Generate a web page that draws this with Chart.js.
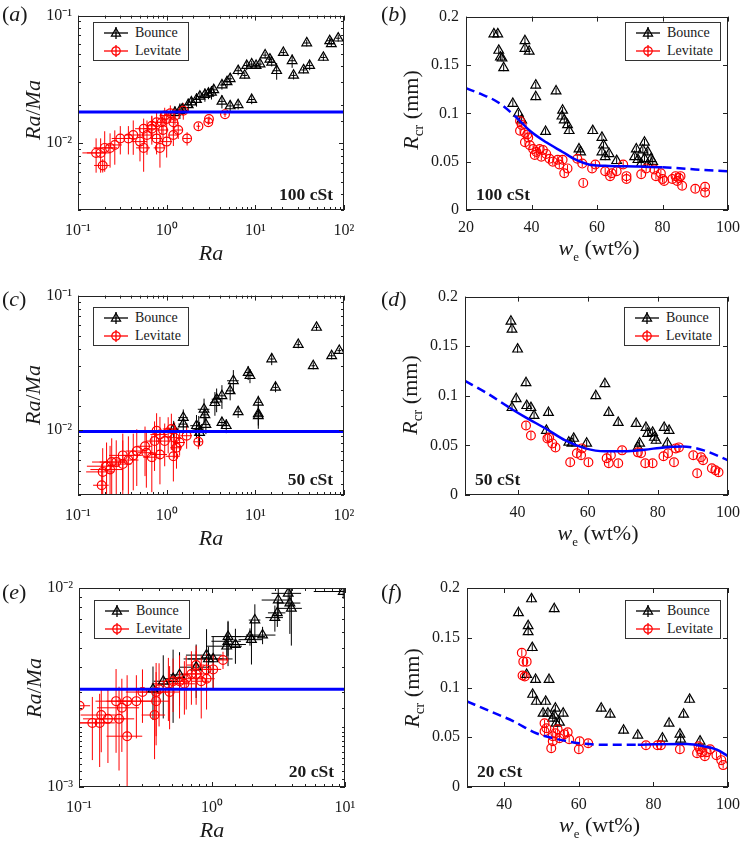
<!DOCTYPE html>
<html>
<head>
<meta charset="utf-8">
<title>Bounce / levitate thresholds</title>
<script src="https://cdn.jsdelivr.net/npm/chart.js@4.4.1/dist/chart.umd.min.js"></script>
<style>
  body { margin: 0; background: #fff; }
  #fig { position: relative; width: 748px; height: 842px; overflow: hidden;
         font-family: "Liberation Serif", "Times New Roman", serif; color: #1a1a1a; }
  #fig canvas { position: absolute; }
  .txt { position: absolute; white-space: nowrap; line-height: 1; }
  .sub { position: relative; font-size: 15px; top: 5px; }
  .sube { position: relative; font-size: 13px; top: 6px; }
  .legend { position: absolute; width: 96px; height: 39px; box-sizing: border-box;
            border: 1.5px solid #333; background: #fff; font-size: 14px; line-height: 1; }
  .legend svg { position: absolute; left: 10px; }
  .legend span { position: absolute; left: 41px; }
</style>
</head>
<body>
<div id="fig"></div>
<script>
// ---- data ----
// (a) 100 cSt
const aRaRange = [0.1, 100];
const aRaMaRange = [0.003, 0.1];
const aRaMaCrit = 0.0176;
const aBounceRa = [86, 69, 72, 38, 58.5, 41, 35, 27, 26, 20.7, 17.4, 12.9, 14.6, 15.3, 11.3, 10.2, 9.1, 8.0, 7.6, 6.4, 5.2, 4.8, 4.2, 3.4, 3.2, 2.96, 2.7, 2.37, 2.17, 1.9, 1.75, 1.5, 1.41, 1.24, 4.2, 5.2, 6.4, 9.1];
const aBounceRaMa = [0.0665, 0.0635, 0.060, 0.061, 0.047, 0.0406, 0.0375, 0.034, 0.0443, 0.0513, 0.037, 0.049, 0.0455, 0.043, 0.0417, 0.0406, 0.0417, 0.0406, 0.034, 0.037, 0.032, 0.0303, 0.0286, 0.0262, 0.025, 0.0246, 0.024, 0.0233, 0.022, 0.021, 0.020, 0.0185, 0.018, 0.0174, 0.0213, 0.0196, 0.020, 0.022];
const aBounceErrX = [0.06, 0.08, 0.06, 0.08, 0.06, 0.08, 0.06, 0.06, 0.08, 0.06, 0.1, 0.06, 0.06, 0.08, 0.06, 0.08, 0.06, 0.08, 0.06, 0.08, 0.06, 0.08, 0.06, 0.08, 0.1, 0.08, 0.1, 0.08, 0.1, 0.08, 0.1, 0.08, 0.12, 0.1, 0.08, 0.08, 0.06, 0.08];
const aBounceErrY = [0.06, 0.06, 0.05, 0.06, 0.06, 0.08, 0.06, 0.07, 0.12, 0.06, 0.15, 0.06, 0.06, 0.07, 0.08, 0.06, 0.06, 0.08, 0.06, 0.08, 0.1, 0.1, 0.08, 0.1, 0.12, 0.1, 0.12, 0.1, 0.12, 0.1, 0.12, 0.1, 0.14, 0.12, 0.12, 0.1, 0.08, 0.08];
const aLevRa = [4.55, 3.0, 2.95, 2.28, 1.54, 1.24, 1.0, 0.88, 1.19, 1.35, 1.7, 1.19, 1.0, 0.84, 0.77, 0.68, 0.55, 0.6, 0.55, 0.5, 0.42, 0.37, 0.3, 0.26, 0.23, 0.2, 0.18, 0.19, 0.16, 0.77, 0.68, 0.91, 1.1, 0.95];
const aLevRaMa = [0.0169, 0.0155, 0.0146, 0.0136, 0.018, 0.0164, 0.0155, 0.0146, 0.0146, 0.0127, 0.0109, 0.0116, 0.0103, 0.0092, 0.0109, 0.013, 0.013, 0.0116, 0.0092, 0.0103, 0.0116, 0.0109, 0.0109, 0.0097, 0.0092, 0.0092, 0.0084, 0.0067, 0.0084, 0.0146, 0.0137, 0.0127, 0.0172, 0.0165];
const aLevErrX = [0.04, 0.04, 0.05, 0.05, 0.15, 0.12, 0.15, 0.15, 0.12, 0.12, 0.1, 0.12, 0.15, 0.15, 0.15, 0.2, 0.2, 0.2, 0.18, 0.2, 0.2, 0.18, 0.2, 0.2, 0.2, 0.25, 0.3, 0.2, 0.3, 0.15, 0.15, 0.15, 0.12, 0.12];
const aLevErrY = [0.05, 0.05, 0.05, 0.06, 0.15, 0.15, 0.18, 0.2, 0.2, 0.15, 0.12, 0.18, 0.25, 0.3, 0.25, 0.25, 0.2, 0.3, 0.35, 0.3, 0.3, 0.25, 0.25, 0.3, 0.3, 0.35, 0.3, 0.12, 0.3, 0.2, 0.2, 0.2, 0.15, 0.15];

// (b) 100 cSt
const bWRange = [20, 100];
const bBounceW = [28.5, 29.7, 30, 30.5, 31, 31.5, 38, 38, 39.3, 41.3, 41.3, 47.5, 44.3, 34.3, 36, 37, 49.5, 49.3, 50, 51, 51.5, 54.5, 55, 58.7, 61.5, 62, 61.5, 62.5, 63.7, 66, 72, 71.5, 72.5, 74.5, 74, 75.5, 74.5, 76.5, 77, 73.5, 75.5];
const bBounceR = [0.182, 0.182, 0.165, 0.158, 0.157, 0.147, 0.175, 0.167, 0.164, 0.129, 0.117, 0.123, 0.081, 0.11, 0.1, 0.093, 0.103, 0.097, 0.093, 0.088, 0.082, 0.063, 0.06, 0.082, 0.075, 0.067, 0.06, 0.055, 0.058, 0.051, 0.063, 0.055, 0.052, 0.07, 0.062, 0.06, 0.053, 0.053, 0.05, 0.048, 0.047];
const bLevW = [36.5, 37, 36.5, 38, 38.7, 39, 38, 39.5, 40.5, 41.5, 41, 42.5, 43.5, 43, 44.5, 45.5, 46.5, 48, 49.5, 48.5, 50, 51, 54, 55.5, 55.8, 58.5, 59.5, 62.5, 64, 64.5, 66, 68, 69, 69, 73.5, 75, 77.5, 78, 79.5, 80, 80.5, 83, 84, 85, 85.5, 84.5, 86, 90, 93, 93];
const bLevR = [0.092, 0.088, 0.082, 0.08, 0.078, 0.075, 0.07, 0.067, 0.063, 0.06, 0.057, 0.063, 0.062, 0.055, 0.058, 0.053, 0.05, 0.052, 0.052, 0.047, 0.038, 0.043, 0.053, 0.048, 0.028, 0.043, 0.047, 0.04, 0.035, 0.038, 0.04, 0.047, 0.035, 0.032, 0.037, 0.043, 0.042, 0.035, 0.038, 0.032, 0.03, 0.032, 0.035, 0.033, 0.035, 0.03, 0.025, 0.022, 0.024, 0.018];
const bFitW = [20, 24.5, 29.5, 35, 39.5, 44.5, 49.5, 53.5, 57.5, 62.5, 72.5, 80, 90, 100];
const bFitR = [0.126, 0.12, 0.112, 0.097, 0.082, 0.07, 0.06, 0.052, 0.047, 0.0457, 0.045, 0.0443, 0.042, 0.04];
const bFitSolid = [35, 80];
const bErrR = 0.0035;

// (c) 50 cSt
const cRaRange = [0.1, 100];
const cRaMaRange = [0.0033, 0.1];
const cRaMaCrit = 0.0098;
const cBounceRa = [49, 30.5, 88.5, 72.6, 45, 15.3, 16.9, 8.3, 8.7, 5.65, 5.2, 4.2, 3.66, 3.5, 2.64, 2.7, 1.54, 1.54, 2.17, 2.3, 2.77, 4.2, 4.7, 6.4, 10.8, 10.8, 10.8, 2.35, 1.2];
const cBounceRaMa = [0.058, 0.0432, 0.039, 0.0357, 0.0301, 0.0338, 0.0208, 0.0268, 0.0254, 0.0233, 0.0196, 0.018, 0.017, 0.016, 0.0143, 0.013, 0.0124, 0.0111, 0.0108, 0.0102, 0.011, 0.0114, 0.0108, 0.0137, 0.0161, 0.0132, 0.0128, 0.0096, 0.0102];
const cBounceErrX = [0.05, 0.05, 0.05, 0.08, 0.05, 0.06, 0.06, 0.08, 0.08, 0.15, 0.1, 0.1, 0.12, 0.12, 0.15, 0.1, 0.12, 0.12, 0.15, 0.15, 0.12, 0.1, 0.1, 0.08, 0.08, 0.08, 0.08, 0.12, 0.15];
const cBounceErrY = [0.05, 0.06, 0.05, 0.06, 0.06, 0.1, 0.08, 0.12, 0.12, 0.2, 0.15, 0.2, 0.2, 0.2, 0.2, 0.15, 0.15, 0.15, 0.2, 0.25, 0.15, 0.1, 0.12, 0.1, 0.12, 0.18, 0.2, 0.2, 0.15];
const cLevRa = [2.28, 1.68, 1.4, 1.23, 1.29, 1.19, 1.04, 1.13, 0.95, 0.84, 0.77, 0.73, 0.84, 0.68, 0.57, 0.59, 0.46, 0.42, 0.37, 0.32, 0.32, 0.27, 0.24, 0.23, 0.21, 0.19, 0.185];
const cLevRaMa = [0.0082, 0.0091, 0.0081, 0.0088, 0.0074, 0.0064, 0.0096, 0.0102, 0.0083, 0.0093, 0.0099, 0.0083, 0.0066, 0.0063, 0.0076, 0.0068, 0.007, 0.0065, 0.006, 0.0065, 0.0056, 0.0058, 0.0058, 0.0051, 0.0054, 0.0049, 0.0039];
const cLevErrX = [0.12, 0.15, 0.15, 0.18, 0.15, 0.18, 0.2, 0.2, 0.2, 0.22, 0.2, 0.2, 0.2, 0.2, 0.2, 0.2, 0.25, 0.25, 0.3, 0.3, 0.25, 0.35, 0.4, 0.4, 0.4, 0.35, 0.2];
const cLevErrY = [0.12, 0.2, 0.2, 0.3, 0.3, 0.35, 0.3, 0.3, 0.35, 0.35, 0.35, 0.4, 0.4, 0.45, 0.4, 0.45, 0.45, 0.45, 0.5, 0.45, 0.5, 0.45, 0.5, 0.5, 0.5, 0.5, 0.45];

// (d) 50 cSt
const dWRange = [25, 100];
const dBounceW = [38.1, 38.4, 40, 42.4, 39.6, 38.4, 42.6, 43.8, 44.7, 48.8, 48.2, 54.6, 56, 55.5, 59.7, 62.3, 64.9, 66, 68.7, 73.8, 74.8, 74.3, 76.6, 77.1, 78.5, 79, 79.5, 81.8, 83.2, 82.7];
const dBounceR = [0.175, 0.167, 0.147, 0.113, 0.097, 0.088, 0.09, 0.088, 0.08, 0.083, 0.065, 0.053, 0.057, 0.052, 0.052, 0.1, 0.112, 0.083, 0.073, 0.072, 0.052, 0.048, 0.068, 0.062, 0.063, 0.058, 0.055, 0.068, 0.065, 0.052];
const dLevW = [42.4, 43.8, 48.5, 49, 49.9, 50.8, 55, 56.9, 58.3, 58.1, 60.2, 65.4, 66, 66.6, 68.7, 69.8, 74.3, 75.2, 76.4, 78.5, 81.6, 82.9, 84.6, 85.1, 86, 90.1, 91.2, 92.3, 92.9, 95.4, 97.3, 96.4];
const dLevR = [0.07, 0.06, 0.057, 0.058, 0.052, 0.048, 0.033, 0.042, 0.047, 0.04, 0.033, 0.037, 0.032, 0.04, 0.032, 0.045, 0.043, 0.042, 0.032, 0.032, 0.039, 0.042, 0.033, 0.047, 0.048, 0.04, 0.022, 0.038, 0.035, 0.027, 0.023, 0.025];
const dFitW = [25, 31.1, 37.7, 42.4, 48, 53.6, 59.3, 64.9, 70.5, 76.2, 81.8, 87, 93.1, 100];
const dFitR = [0.115, 0.103, 0.088, 0.078, 0.067, 0.055, 0.047, 0.044, 0.044, 0.0457, 0.048, 0.049, 0.045, 0.035];
const dFitSolid = [37.7, 87];
const dErrR = 0.0035;

// (e) 20 cSt
const eRaRange = [0.1, 10];
const eRaMaRange = [0.001, 0.01];
const eRaMaCrit = 0.0031;
const eBounceRa = [9.7, 3.74, 3.15, 3.85, 3.95, 3.1, 2.97, 2.1, 2.4, 1.93, 1.98, 1.32, 1.32, 1.29, 1.5, 1.02, 0.91, 0.94, 0.76, 0.57, 0.51, 0.43, 0.36];
const eBounceRaMa = [0.0096, 0.0094, 0.0087, 0.0084, 0.0079, 0.0075, 0.0071, 0.0069, 0.0058, 0.0057, 0.0055, 0.0057, 0.0054, 0.0051, 0.0052, 0.0044, 0.0046, 0.0044, 0.004, 0.00366, 0.0035, 0.0034, 0.0031];
const eBounceErrX = [0.4, 0.25, 0.25, 0.2, 0.2, 0.15, 0.15, 0.1, 0.25, 0.3, 0.2, 0.25, 0.25, 0.3, 0.2, 0.4, 0.3, 0.3, 0.25, 0.15, 0.15, 0.15, 0.1];
const eBounceErrY = [0.08, 0.15, 0.2, 0.3, 0.35, 0.15, 0.15, 0.2, 0.1, 0.1, 0.25, 0.2, 0.25, 0.15, 0.2, 0.3, 0.35, 0.15, 0.3, 0.3, 0.4, 0.35, 0.3];
const eLevRa = [1.21, 1.02, 0.91, 0.91, 0.83, 0.76, 0.76, 0.7, 0.64, 0.62, 0.57, 0.51, 0.47, 0.48, 0.4, 0.38, 0.38, 0.37, 0.3, 0.27, 0.23, 0.21, 0.2, 0.19, 0.23, 0.165, 0.147, 0.143, 0.126, 0.101];
const eLevRaMa = [0.00435, 0.0039, 0.0039, 0.0035, 0.0034, 0.0037, 0.0041, 0.0037, 0.0035, 0.0033, 0.0034, 0.0034, 0.0033, 0.003, 0.0031, 0.003, 0.0027, 0.0023, 0.003, 0.0027, 0.0027, 0.0025, 0.0022, 0.0027, 0.0018, 0.0022, 0.0023, 0.0021, 0.0021, 0.00256];
const eLevErrX = [0.1, 0.15, 0.15, 0.15, 0.15, 0.15, 0.15, 0.2, 0.2, 0.2, 0.2, 0.2, 0.25, 0.2, 0.25, 0.25, 0.25, 0.2, 0.25, 0.3, 0.3, 0.35, 0.3, 0.3, 0.3, 0.35, 0.3, 0.3, 0.35, 0.2];
const eLevErrY = [0.1, 0.2, 0.2, 0.3, 0.35, 0.3, 0.25, 0.3, 0.3, 0.3, 0.35, 0.3, 0.35, 0.35, 0.35, 0.4, 0.4, 0.4, 0.3, 0.35, 0.35, 0.4, 0.45, 0.45, 0.5, 0.4, 0.35, 0.4, 0.35, 0.2];

// (f) 20 cSt
const fWRange = [30, 100];
const fBounceW = [43.8, 47.3, 53.4, 46.4, 46.4, 47.5, 46, 48.4, 52, 47.6, 48.6, 51.1, 50.4, 51.7, 53.7, 53.4, 53.9, 54.8, 55.8, 53, 66, 68.4, 72, 75.8, 82.4, 84.2, 87.1, 87.3, 88.1, 89.7, 92.5];
const fBounceR = [0.175, 0.189, 0.179, 0.162, 0.156, 0.14, 0.113, 0.108, 0.108, 0.093, 0.086, 0.086, 0.074, 0.074, 0.079, 0.072, 0.064, 0.065, 0.074, 0.069, 0.079, 0.073, 0.057, 0.052, 0.049, 0.064, 0.053, 0.048, 0.073, 0.088, 0.046];
const fLevW = [44.7, 45.1, 46, 44.9, 45.5, 50.8, 51.3, 50.8, 52.6, 53, 53, 53.7, 54.3, 54.8, 56.1, 57, 57.4, 60.2, 60, 62.5, 78, 81.1, 82, 87.1, 92.1, 92.5, 93, 93.8, 94.3, 95.2, 96.9, 98.2, 98.7, 91.7];
const fLevR = [0.135, 0.126, 0.126, 0.112, 0.111, 0.064, 0.059, 0.056, 0.039, 0.051, 0.046, 0.054, 0.058, 0.049, 0.053, 0.055, 0.048, 0.046, 0.038, 0.044, 0.042, 0.042, 0.042, 0.038, 0.041, 0.038, 0.035, 0.031, 0.035, 0.038, 0.032, 0.027, 0.022, 0.034];
const fFitW = [30, 36.3, 42.5, 48.6, 54.8, 60, 67, 75.8, 80.2, 89, 93.4, 97, 100];
const fFitR = [0.086, 0.076, 0.066, 0.054, 0.0476, 0.044, 0.0425, 0.0425, 0.043, 0.0432, 0.041, 0.0375, 0.031];
const fFitSolid = [75.8, 100];
const fErrR = 0.0035;

const rRange = [0, 0.2];

// ---- helpers ----
Chart.defaults.font.family = '"Liberation Serif", "Times New Roman", serif';
Chart.defaults.font.size = 16;
Chart.defaults.color = '#1a1a1a';

const SUP = { '-': '\u207B', '0': '\u2070', '1': '\u00B9', '2': '\u00B2', '3': '\u00B3' };
function isPow10(v) { const e = Math.log10(v); return Math.abs(e - Math.round(e)) < 1e-9; }
function powLabel(v) {
  if (!isPow10(v)) return '';
  return '10' + String(Math.round(Math.log10(v))).split('').map(c => SUP[c]).join('');
}
function pts(xs, ys) { return xs.map((x, i) => ({ x: x, y: ys[i] })); }

function bounceSet(xs, ys, ex, ey) {
  return { label: 'Bounce', data: pts(xs, ys), pointStyle: 'triangle', pointRadius: 5.6,
    borderColor: '#000', backgroundColor: 'rgba(0,0,0,0)', borderWidth: 1.2, errX: ex, errY: ey, order: 3 };
}
function levSet(xs, ys, ex, ey) {
  return { label: 'Levitate', data: pts(xs, ys), pointStyle: 'circle', pointRadius: 4.4,
    borderColor: '#ff0000', backgroundColor: 'rgba(0,0,0,0)', borderWidth: 1.2, errX: ex, errY: ey, order: 2 };
}
function withAbsErr(ds, e) { ds.errAbsY = e; return ds; }
function critLine(range, yv) {
  return { data: [{ x: range[0], y: yv }, { x: range[1], y: yv }], showLine: true, pointRadius: 0,
    borderColor: '#0000ff', borderWidth: 3, order: 1 };
}
function fitCurve(xs, ys, solid) {
  return { data: pts(xs, ys), showLine: true, pointRadius: 0, borderColor: '#0000ff', borderWidth: 2.5,
    cubicInterpolationMode: 'monotone', order: 1,
    segment: { borderDash: ctx => {
      const m = (ctx.p0.parsed.x + ctx.p1.parsed.x) / 2;
      return (m < solid[0] || m > solid[1]) ? [9, 5] : undefined;
    } } };
}

// error bars, drawn through the chart's scales
const errorBars = {
  id: 'errorBars',
  beforeDatasetsDraw(chart) {
    const { ctx, chartArea: ca, scales: { x, y } } = chart;
    ctx.save();
    ctx.beginPath(); ctx.rect(ca.left, ca.top, ca.width, ca.height); ctx.clip();
    chart.data.datasets.forEach(ds => {
      if (!ds.errY && !ds.errAbsY) return;
      ctx.strokeStyle = ds.borderColor; ctx.lineWidth = 1;
      ctx.beginPath();
      ds.data.forEach((p, i) => {
        const px = x.getPixelForValue(p.x), py = y.getPixelForValue(p.y);
        if (ds.errAbsY) {
          ctx.moveTo(px, y.getPixelForValue(p.y - ds.errAbsY));
          ctx.lineTo(px, y.getPixelForValue(p.y + ds.errAbsY));
          return;
        }
        ctx.moveTo(px, y.getPixelForValue(p.y * (1 - ds.errY[i])));
        ctx.lineTo(px, y.getPixelForValue(p.y * (1 + ds.errY[i])));
        ctx.moveTo(x.getPixelForValue(p.x * (1 - ds.errX[i])), py);
        ctx.lineTo(x.getPixelForValue(p.x * (1 + ds.errX[i])), py);
      });
      ctx.stroke();
    });
    ctx.restore();
  }
};

// boxed axes with inward ticks, MATLAB style
const frame = {
  id: 'frame',
  afterDatasetsDraw(chart) {
    const { ctx, chartArea: ca, scales: { x, y } } = chart;
    ctx.save();
    ctx.strokeStyle = '#222'; ctx.lineWidth = 1;
    ctx.strokeRect(Math.round(ca.left) + 0.5, Math.round(ca.top) + 0.5,
                   Math.round(ca.width) - 1, Math.round(ca.height) - 1);
    ctx.beginPath();
    const len = (s, v) => (s.type === 'logarithmic' && !isPow10(v)) ? 3 : 5;
    x.ticks.forEach(t => {
      const px = Math.round(x.getPixelForValue(t.value)) + 0.5, l = len(x, t.value);
      ctx.moveTo(px, ca.bottom); ctx.lineTo(px, ca.bottom - l);
      ctx.moveTo(px, ca.top); ctx.lineTo(px, ca.top + l);
    });
    y.ticks.forEach(t => {
      const py = Math.round(y.getPixelForValue(t.value)) + 0.5, l = len(y, t.value);
      ctx.moveTo(ca.left, py); ctx.lineTo(ca.left + l, py);
      ctx.moveTo(ca.right, py); ctx.lineTo(ca.right - l, py);
    });
    ctx.stroke();
    ctx.restore();
  }
};

// ---- panels ----
const RA = '<i>Ra</i>', RAMA = '<i>Ra</i>/<i>Ma</i>';
const WE = '<i>w</i><span class="sube">e</span> (wt%)';
const RCR = '<i>R</i><span class="sub">cr</span> (mm)';

const panels = [
  { key: 'a', col: 0, canvas: [0, 0, 374, 280], plot: [78, 10, 344, 210], kind: 'log',
    xRange: aRaRange, yRange: aRaMaRange, visc: '100 cSt', xTitle: RA, yTitle: RAMA,
    datasets: [bounceSet(aBounceRa, aBounceRaMa, aBounceErrX, aBounceErrY),
               levSet(aLevRa, aLevRaMa, aLevErrX, aLevErrY), critLine(aRaRange, aRaMaCrit)] },
  { key: 'b', col: 1, canvas: [374, 0, 374, 280], plot: [466, 10, 732, 210], kind: 'lin',
    xRange: bWRange, yRange: rRange, visc: '100 cSt', xTitle: WE, yTitle: RCR,
    datasets: [withAbsErr(bounceSet(bBounceW, bBounceR), bErrR), withAbsErr(levSet(bLevW, bLevR), bErrR),
               fitCurve(bFitW, bFitR, bFitSolid)] },
  { key: 'c', col: 0, canvas: [0, 280, 374, 280], plot: [78, 295, 344, 495], kind: 'log',
    xRange: cRaRange, yRange: cRaMaRange, visc: '50 cSt', xTitle: RA, yTitle: RAMA,
    datasets: [bounceSet(cBounceRa, cBounceRaMa, cBounceErrX, cBounceErrY),
               levSet(cLevRa, cLevRaMa, cLevErrX, cLevErrY), critLine(cRaRange, cRaMaCrit)] },
  { key: 'd', col: 1, canvas: [374, 280, 374, 280], plot: [465, 295, 731, 495], kind: 'lin',
    xRange: dWRange, yRange: rRange, visc: '50 cSt', xTitle: WE, yTitle: RCR,
    datasets: [withAbsErr(bounceSet(dBounceW, dBounceR), dErrR), withAbsErr(levSet(dLevW, dLevR), dErrR),
               fitCurve(dFitW, dFitR, dFitSolid)] },
  { key: 'e', col: 0, canvas: [0, 560, 374, 282], plot: [79, 588, 345, 787], kind: 'log',
    xRange: eRaRange, yRange: eRaMaRange, visc: '20 cSt', xTitle: RA, yTitle: RAMA,
    datasets: [bounceSet(eBounceRa, eBounceRaMa, eBounceErrX, eBounceErrY),
               levSet(eLevRa, eLevRaMa, eLevErrX, eLevErrY), critLine(eRaRange, eRaMaCrit)] },
  { key: 'f', col: 1, canvas: [374, 560, 374, 282], plot: [467, 588, 732, 787], kind: 'lin',
    xRange: fWRange, yRange: rRange, visc: '20 cSt', xTitle: WE, yTitle: RCR,
    datasets: [withAbsErr(bounceSet(fBounceW, fBounceR), fErrR), withAbsErr(levSet(fLevW, fLevR), fErrR),
               fitCurve(fFitW, fFitR, fFitSolid)] }
];

function makeScales(p) {
  const fitY = s => { s.width = p.plot[0] - p.canvas[0]; };
  const fitX = s => { s.height = p.canvas[1] + p.canvas[3] - p.plot[3]; };
  const base = { grid: { display: false, drawTicks: false }, border: { display: false } };
  if (p.kind === 'log') {
    return {
      x: Object.assign({}, base, { type: 'logarithmic', min: p.xRange[0], max: p.xRange[1], afterFit: fitX,
        ticks: { autoSkip: false, maxRotation: 0, padding: 11, callback: powLabel } }),
      y: Object.assign({}, base, { type: 'logarithmic', min: p.yRange[0], max: p.yRange[1], afterFit: fitY,
        ticks: { autoSkip: false, padding: 6, callback: powLabel } })
    };
  }
  return {
    x: Object.assign({}, base, { type: 'linear', min: p.xRange[0], max: p.xRange[1], afterFit: fitX,
      ticks: { stepSize: 20, autoSkip: false, maxRotation: 0, padding: 8,
               callback: v => (v % 20 === 0 ? String(v) : '') } }),
    y: Object.assign({}, base, { type: 'linear', min: p.yRange[0], max: p.yRange[1], afterFit: fitY,
      ticks: { stepSize: 0.05, padding: 7, callback: v => String(Math.round(v * 100) / 100) } })
  };
}

const fig = document.getElementById('fig');

function addText(html, size, x, baseline, align) {
  const d = document.createElement('div');
  d.className = 'txt';
  d.style.fontSize = size + 'px';
  d.innerHTML = html;
  d.style.left = x + 'px';
  d.style.top = (baseline - 0.8375 * size) + 'px';
  if (align === 'center') d.style.transform = 'translateX(-50%)';
  if (align === 'right') d.style.transform = 'translateX(-100%)';
  fig.appendChild(d);
  return d;
}
function addYTitle(html, size, baselineX, cy) {
  const d = document.createElement('div');
  d.className = 'txt';
  d.style.fontSize = size + 'px';
  d.innerHTML = html;
  d.style.left = (baselineX - 0.3375 * size) + 'px';
  d.style.top = cy + 'px';
  d.style.transform = 'translate(-50%, -50%) rotate(-90deg)';
  fig.appendChild(d);
}
function legendMarker(color, tri, top) {
  const shape = tri
    ? '<polygon points="12,2.2 16.6,10.2 7.4,10.2" fill="none" stroke="' + color + '" stroke-width="1.2"/>'
    : '<circle cx="12" cy="7" r="4.2" fill="none" stroke="' + color + '" stroke-width="1.2"/>';
  return '<svg style="top:' + top + 'px" width="24" height="14" viewBox="0 0 24 14">' +
    '<line x1="0" y1="7" x2="24" y2="7" stroke="' + color + '" stroke-width="1.3"/>' +
    '<line x1="12" y1="1" x2="12" y2="13" stroke="' + color + '" stroke-width="1.3"/>' + shape + '</svg>';
}
function addLegend(left, top) {
  const d = document.createElement('div');
  d.className = 'legend';
  d.style.left = left + 'px';
  d.style.top = top + 'px';
  d.innerHTML =
    legendMarker('#000', true, 3) + '<span style="top:3px">Bounce</span>' +
    legendMarker('#ff0000', false, 21) + '<span style="top:21px">Levitate</span>';
  fig.appendChild(d);
}

panels.forEach(p => {
  const cv = document.createElement('canvas');
  cv.width = p.canvas[2]; cv.height = p.canvas[3];
  cv.style.left = p.canvas[0] + 'px'; cv.style.top = p.canvas[1] + 'px';
  cv.style.width = p.canvas[2] + 'px'; cv.style.height = p.canvas[3] + 'px';
  fig.appendChild(cv);

  new Chart(cv.getContext('2d'), {
    type: 'scatter',
    data: { datasets: p.datasets },
    options: {
      responsive: false,
      animation: false,
      events: [],
      layout: { padding: { left: 0, bottom: 0, top: p.plot[1] - p.canvas[1],
                           right: p.canvas[0] + p.canvas[2] - p.plot[2] } },
      plugins: { legend: { display: false }, tooltip: { enabled: false } },
      scales: makeScales(p)
    },
    plugins: [errorBars, frame]
  });

  const [l, t, r, b] = p.plot;
  addText('(<i>' + p.key + '</i>)', 22, p.canvas[0] + (p.col === 0 ? 2 : 7), t + 11);
  if (p.col === 0) addText('<b>' + p.visc + '</b>', 17.5, r - 11, b - 9, 'right');
  else addText('<b>' + p.visc + '</b>', 17.5, l + 10, b - 9);
  addText(p.xTitle, 22, (l + r) / 2, b + (p.col === 0 ? 50 : 45), 'center');
  addYTitle(p.yTitle, 22, l - (p.col === 0 ? 38 : 48), (t + b) / 2);
  addLegend(p.col === 0 ? l + 15 : r - 11 - 96, t + 12);
});
</script>
</body>
</html>
